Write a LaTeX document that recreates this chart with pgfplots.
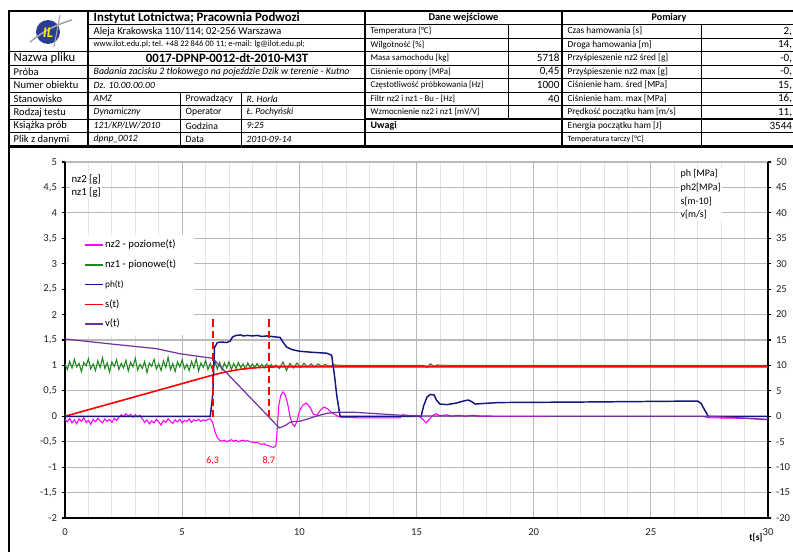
\documentclass[border=0pt]{standalone}
\usepackage{fontspec}
\setmainfont{Carlito}
\usepackage{pgfplots}
\pgfplotsset{compat=1.18}
\definecolor{cnavy}{RGB}{20,20,130}
\definecolor{cgreen}{RGB}{30,135,30}
\definecolor{cmag}{RGB}{255,0,255}
\definecolor{cpurp}{RGB}{112,48,160}
\definecolor{cred}{RGB}{255,0,0}
\definecolor{logob}{RGB}{40,60,150}
\newcommand\fs[1]{\fontsize{#1}{#1}\selectfont}
\begin{document}
\begin{tikzpicture}
\useasboundingbox (0,0) rectangle (594.75pt,413.25pt);
\fill[white] (0,0) rectangle (594.75pt,413.25pt);
% ---------------- left axis ----------------
\begin{axis}[at={(48.75pt,24.75pt)}, anchor=south west, scale only axis,
 width=527.25pt, height=267pt,
 xmin=0, xmax=30, ymin=-2, ymax=5,
 xtick={0,5,10,15,20,25,30}, minor x tick num=4,
 ytick={-2,-1.5,-1,-0.5,0,0.5,1,1.5,2,2.5,3,3.5,4,4.5,5},
 grid=both, major grid style={gray!55, line width=0.9pt},
 minor grid style={gray!22, line width=0.6pt},
 axis x line*=bottom, axis y line*=left,
 axis line style={black, line width=1.1pt, -},
 tick align=outside, major tick length=2.5pt, minor tick length=0pt,
 x tick style={draw=none}, y tick style={black, line width=0.8pt},
 tick label style={font=\fs{8}, text=black!85},
 xticklabel style={yshift=-2pt},
 /pgf/number format/use comma, /pgf/number format/fixed,
 /pgf/number format/assume math mode=true,
]
% nz1 - pionowe
\addplot[cgreen, line width=0.8pt] coordinates {
(0,1.02)(0.1,0.92)(0.2,1.08)(0.3,0.95)(0.4,1.12)(0.5,0.97)(0.6,1.04)(0.7,0.88)(0.8,1.06)(0.9,0.99)
(1.0,1.13)(1.1,0.93)(1.2,1.03)(1.3,0.9)(1.4,1.09)(1.5,0.96)(1.6,1.15)(1.7,0.94)(1.8,1.05)(1.9,0.87)
(2.0,1.07)(2.1,0.98)(2.2,1.11)(2.3,0.92)(2.4,1.04)(2.5,0.95)(2.6,1.1)(2.7,0.89)(2.8,1.06)(2.9,0.97)
(3.0,1.14)(3.1,0.91)(3.2,1.02)(3.3,0.94)(3.4,1.08)(3.5,0.86)(3.6,1.05)(3.7,0.98)(3.8,1.12)(3.9,0.93)
(4.0,1.03)(4.1,0.9)(4.2,1.09)(4.3,0.96)(4.4,1.16)(4.5,0.92)(4.6,1.04)(4.7,0.88)(4.8,1.07)(4.9,0.97)
(5.0,1.11)(5.1,0.93)(5.2,1.02)(5.3,0.9)(5.4,1.08)(5.5,0.95)(5.6,1.13)(5.7,0.89)(5.8,1.05)(5.9,0.96)
(6.0,1.1)(6.1,0.92)(6.2,1.04)(6.3,0.9)(6.4,1.08)(6.5,0.93)(6.6,1.06)(6.7,0.91)(6.8,1.05)(6.9,0.95)
(7.0,1.07)(7.1,0.92)(7.2,1.04)(7.3,0.94)(7.4,1.06)(7.5,0.95)(7.6,1.03)(7.7,0.93)(7.8,1.05)(7.9,0.96)
(8.0,1.03)(8.1,0.95)(8.2,1.04)(8.3,0.96)(8.4,1.02)(8.5,0.95)(8.6,1.03)(8.7,0.97)(8.8,1.02)(8.9,0.96)
(9.0,1.01)(9.15,0.94)(9.3,1.07)(9.45,0.9)(9.6,1.04)(9.75,0.95)(9.9,1.05)(10.05,0.96)(10.2,1.04)
(10.35,0.97)(10.5,1.03)(10.65,0.97)(10.8,1.03)(10.95,0.98)(11.1,1.02)(11.3,0.98)(11.5,1.01)(11.8,1.0)
(15.3,1.0)(15.45,0.96)(15.6,1.03)(15.75,0.98)(15.9,1.01)(16.2,1.0)(30,1.0)};
% nz2 - poziome
\addplot[cmag, line width=0.8pt] coordinates {
(0,-0.06)(0.1,-0.11)(0.2,-0.04)(0.3,-0.13)(0.4,-0.07)(0.5,-0.15)(0.6,-0.05)(0.7,-0.1)(0.8,-0.03)(0.9,-0.12)
(1.0,-0.08)(1.1,-0.16)(1.2,-0.06)(1.3,-0.11)(1.4,-0.04)(1.5,-0.09)(1.6,-0.13)(1.7,-0.05)(1.8,-0.1)(1.9,-0.06)
(2.0,-0.12)(2.1,-0.04)(2.2,-0.08)(2.3,-0.02)(2.4,0.03)(2.5,-0.01)(2.6,0.05)(2.7,0.0)(2.8,0.04)(2.9,-0.02)
(3.0,0.03)(3.1,-0.01)(3.2,0.02)(3.3,-0.05)(3.4,-0.12)(3.5,-0.07)(3.6,-0.15)(3.7,-0.09)(3.8,-0.13)(3.9,-0.06)
(4.0,-0.11)(4.1,-0.17)(4.2,-0.08)(4.3,-0.12)(4.4,-0.05)(4.5,-0.1)(4.6,-0.14)(4.7,-0.07)(4.8,-0.11)(4.9,-0.06)
(5.0,-0.13)(5.1,-0.08)(5.2,-0.1)(5.3,-0.05)(5.4,-0.12)(5.5,-0.07)(5.6,-0.09)(5.7,-0.06)(5.8,-0.1)(5.9,-0.07)
(6.0,-0.09)(6.1,-0.06)(6.2,-0.05)(6.3,-0.12)(6.4,-0.3)(6.5,-0.42)(6.6,-0.47)(6.7,-0.49)(6.8,-0.47)(6.9,-0.5)
(7.0,-0.48)(7.1,-0.46)(7.2,-0.49)(7.3,-0.47)(7.4,-0.5)(7.5,-0.48)(7.6,-0.47)(7.7,-0.49)(7.8,-0.48)(7.9,-0.5)
(8.0,-0.51)(8.1,-0.52)(8.2,-0.51)(8.3,-0.54)(8.4,-0.55)(8.5,-0.54)(8.6,-0.57)(8.7,-0.58)(8.8,-0.6)(8.9,-0.61)
(9.0,-0.58)(9.05,-0.3)(9.12,0.2)(9.2,0.4)(9.3,0.48)(9.4,0.42)(9.5,0.25)(9.6,0.0)(9.7,-0.15)(9.8,-0.2)
(9.9,-0.1)(10.0,0.1)(10.15,0.22)(10.3,0.26)(10.45,0.18)(10.6,0.04)(10.75,0.02)(10.9,0.12)(11.05,0.18)
(11.2,0.15)(11.35,0.08)(11.5,0.04)(11.65,0.0)(11.8,-0.02)(12.5,-0.03)(14.3,-0.03)(14.4,0.03)(14.6,0.02)
(15.1,0.01)(15.25,-0.05)(15.4,-0.13)(15.55,-0.06)(15.7,0.02)(15.85,0.05)(16.0,0.01)(16.3,0.03)(16.5,0.0)
(16.8,0.02)(17.1,0.0)(17.4,0.02)(17.7,0.0)(20,0.0)(27.2,0.0)(27.5,-0.03)(29,-0.04)(30,-0.07)};
\node[text=cred, font=\fs{7.5}] at (axis cs:6.3,-0.87) {6,3};
\node[text=cred, font=\fs{7.5}] at (axis cs:8.7,-0.87) {8,7};
\end{axis}
% ---------------- right axis ----------------
\begin{axis}[at={(48.75pt,24.75pt)}, anchor=south west, scale only axis,
 width=527.25pt, height=267pt,
 xmin=0, xmax=30, ymin=-20, ymax=50,
 axis x line=none, axis y line*=right,
 axis line style={black, line width=1.1pt, -},
 ytick={-20,-15,-10,-5,0,5,10,15,20,25,30,35,40,45,50},
 tick align=outside, major tick length=2.5pt,
 y tick style={black, line width=0.8pt},
 tick label style={font=\fs{8}, text=black!85},
 /pgf/number format/assume math mode=true,
 legend style={at={(0.003,0.797)}, anchor=north west, fill=white, draw=none,
   inner xsep=12.5pt, inner ysep=3pt, row sep=4.8pt,
   font=\fs{8}, nodes={text height=6pt, text depth=2pt, inner sep=1pt}},
 legend cell align=left,
 legend image code/.code={\draw[#1] (0pt,0pt) -- (13.5pt,0pt);},
]
\addlegendimage{cmag, line width=1.3pt}\addlegendentry{nz2 - poziome(t)}
\addlegendimage{cgreen, line width=1.3pt}\addlegendentry{nz1 - pionowe(t)}
\addlegendimage{cnavy, line width=0.8pt}\addlegendentry{{\fs{7}ph(t)}}
\addlegendimage{cred, line width=1.3pt}\addlegendentry{s(t)}
\addlegendimage{cpurp, line width=1.3pt}\addlegendentry{v(t)}
% s(t)
\addplot[cred, line width=1.2pt, forget plot] coordinates {
(0,0)(1,1.29)(2,2.57)(3,3.86)(4,5.14)(5,6.43)(6.3,8.1)(6.6,8.45)(7,8.85)(7.5,9.25)(8,9.5)
(8.5,9.65)(9,9.72)(9.5,9.75)(30,9.75)};
% ph(t)
\addplot[cnavy, line width=1.1pt, forget plot] coordinates {
(0,0)(6.2,0)(6.3,4)(6.38,13.5)(6.5,14.5)(6.7,14.6)(6.9,14.5)(7.05,14.8)(7.15,15.6)(7.3,15.9)
(7.5,16.0)(7.6,15.8)(7.8,15.9)(8.0,15.8)(8.2,15.9)(8.4,15.7)(8.6,15.8)(8.8,15.7)(9.0,15.6)
(9.18,15.5)(9.3,14.6)(9.46,13.6)(9.7,13.1)(10.0,12.8)(10.5,12.6)(11.17,12.4)(11.38,12.0)
(11.5,8)(11.6,4)(11.74,0)(15.2,0)(15.3,2)(15.45,3.8)(15.6,4.3)(15.75,4.2)(15.85,3.2)(16.0,2.4)
(16.3,2.3)(16.7,2.6)(17.0,3.0)(17.2,3.2)(17.35,2.9)(17.5,2.4)(17.8,2.5)(18.5,2.7)(22,2.8)
(27.0,3.0)(27.15,2.5)(27.3,1.2)(27.45,0)(30,0)};
% v(t)
\addplot[cpurp, line width=0.9pt, forget plot] coordinates {
(0,15.2)(2,14.2)(3.9,13.3)(4.9,12.3)(6.3,11.4)(9.15,-2.3)(9.4,-1.8)(9.6,-1.2)(9.8,-1.0)
(10.0,-1.0)(10.3,-0.6)(10.7,0.0)(11.2,0.6)(11.7,0.8)(12.3,0.8)(13,0.6)(14,0.3)(15,0.05)
(27.5,0.0)(30,-0.6)};
% markers
\addplot[cred, line width=1.6pt, dash pattern=on 5.5pt off 3pt, forget plot] coordinates {(6.3,-0.2)(6.3,19.3)};
\addplot[cred, line width=1.6pt, dash pattern=on 5.5pt off 3pt, forget plot] coordinates {(8.7,-0.2)(8.7,19.3)};
\end{axis}
% ---------------- table and annotations (pixel coordinates, y down) ----------------
\begin{scope}[x=0.75pt, y=-0.75pt, yshift=413.25pt]
% annotation boxes in plot
\node[anchor=north west, fill=white, inner sep=1pt, align=left, font=\fontsize{8}{9.75}\selectfont]
  at (70,173) {nz2 [g]\\nz1 [g]};
\node[anchor=north west, fill=white, inner sep=1pt, align=left, font=\fontsize{7.5}{10.25}\selectfont]
  at (679,168) {ph [MPa]\\ph2[MPa]\\s[m-10]\\v[m/s]};
\node[font=\bfseries\fs{7}] at (756,538) {t[s]};
% frame
\draw[line width=1.6pt] (9,11) -- (9,553);
\draw[line width=1.4pt] (9,147) -- (800,147);
% ---- left block
\draw[line width=1.3pt] (9,11) rectangle (365,146);
\draw[line width=1.1pt] (88,11) -- (88,146);
\foreach \yy in {24.5,38} \draw[line width=0.5pt] (88,\yy) -- (365,\yy);
\draw[line width=1.1pt] (9,51.5) -- (365,51.5);
\foreach \yy in {65,78.5,92,105.5,119,132.5} \draw[line width=0.5pt] (9,\yy) -- (365,\yy);
\draw[line width=0.5pt] (180,92) -- (180,146);
\draw[line width=0.5pt] (241,92) -- (241,146);
% logo
\fill[logob] (48,32) circle (12);
\draw[gray!70, line width=1.2pt] (30,42) .. controls (45,30) and (58,24) .. (72,20);
\draw[gray!70, line width=0.8pt] (60,15) -- (54,47);
\node[text=yellow!90!orange, font=\bfseries\itshape\fs{11}] at (48,33) {IL};
% header texts
\node[anchor=west, font=\bfseries\fs{9.6}] at (89,17.75) {Instytut Lotnictwa; Pracownia Podwozi};
\node[anchor=west, font=\fs{7.9}] at (89,31.25) {Aleja Krakowska 110/114; 02-256 Warszawa};
\node[anchor=west, font=\fs{6.3}] at (89,44.75) {www.ilot.edu.pl; tel. +48 22 846 00 11; e-mail: lg@ilot.edu.pl;};
\node[anchor=west, font=\fs{9.5}] at (9,58.25) {Nazwa pliku};
\node[font=\bfseries\fs{9.6}] at (227,58.25) {0017-DPNP-0012-dt-2010-M3T};
\node[anchor=west, font=\fs{7.9}] at (9,71.75) {Próba};
\node[anchor=west, font=\itshape\fs{7.4}] at (89,71.75) {Badania zacisku 2 tłokowego na pojeździe Dzik w terenie - Kutno};
\node[anchor=west, font=\fs{7.9}] at (9,85.25) {Numer obiektu};
\node[anchor=west, font=\itshape\fs{7.2}] at (89,85.25) {Dz. 10.00.00.00};
\node[anchor=west, font=\fs{7.9}] at (9,98.75) {Stanowisko};
\node[anchor=west, font=\itshape\fs{7.2}] at (89,98.75) {AMZ};
\node[anchor=west, font=\fs{7.3}] at (181,98.75) {Prowadzący};
\node[anchor=west, font=\itshape\fs{7.2}] at (242,98.75) {R. Horla};
\node[anchor=west, font=\fs{7.9}] at (9,112.25) {Rodzaj testu};
\node[anchor=west, font=\itshape\fs{7.2}] at (89,112.25) {Dynamiczny};
\node[anchor=west, font=\fs{7.3}] at (181,112.25) {Operator};
\node[anchor=west, font=\itshape\fs{7.2}] at (242,112.25) {Ł. Pochyński};
\node[anchor=west, font=\fs{7.9}] at (9,125.75) {Książka prób};
\node[anchor=west, font=\itshape\fs{7.2}] at (89,125.75) {121/KP/LW/2010};
\node[anchor=west, font=\fs{7.3}] at (181,125.75) {Godzina};
\node[anchor=west, font=\itshape\fs{7.2}] at (242,125.75) {9:25};
\node[anchor=west, font=\fs{7.9}] at (9,139.25) {Plik z danymi};
\node[anchor=west, font=\itshape\fs{7.2}] at (89,139.25) {dpnp\_0012};
\node[anchor=west, font=\fs{7.3}] at (181,139.25) {Data};
\node[anchor=west, font=\itshape\fs{7.2}] at (242,139.25) {2010-09-14};
% ---- middle block
\draw[line width=1.3pt] (365,11) rectangle (562,146);
\draw[line width=1.1pt] (365,24.5) -- (562,24.5);
\foreach \yy in {38,51.5,65,78.5,92,105.5,132.5} \draw[line width=0.5pt] (365,\yy) -- (562,\yy);
\draw[line width=1.1pt] (365,119) -- (562,119);
\draw[line width=0.5pt] (508,24.5) -- (508,119);
\node[font=\bfseries\fs{7.8}] at (463.5,17.75) {Dane wejściowe};
\node[anchor=west, font=\fs{6.6}] at (366,31.25) {Temperatura [°C]};
\node[anchor=west, font=\fs{6.6}] at (366,44.75) {Wilgotność [\%]};
\node[anchor=west, font=\fs{6.6}] at (366,58.25) {Masa samochodu [kg]};
\node[anchor=west, font=\fs{6.6}] at (366,71.75) {Ciśnienie opony [MPa]};
\node[anchor=west, font=\fs{6.6}] at (366,85.25) {Częstotliwość próbkowania [Hz]};
\node[anchor=west, font=\fs{6.6}] at (366,98.75) {Filtr nz2 i nz1 - Bu - [Hz]};
\node[anchor=west, font=\fs{6.6}] at (366,112.25) {Wzmocnienie nz2 i nz1 [mV/V]};
\node[anchor=west, font=\bfseries\fs{7.5}] at (366,125.75) {Uwagi};
\node[anchor=east, font=\fs{8.3}, inner sep=1pt] at (561,58.25) {5718};
\node[anchor=east, font=\fs{8.3}, inner sep=1pt] at (561,71.75) {0,45};
\node[anchor=east, font=\fs{8.3}, inner sep=1pt] at (561,85.25) {1000};
\node[anchor=east, font=\fs{8.3}, inner sep=1pt] at (561,98.75) {40};
% ---- right block
\draw[line width=1.3pt] (562,11) rectangle (800,146);
\draw[line width=1.1pt] (562,24.5) -- (800,24.5);
\foreach \yy in {38,51.5,65,78.5,92,105.5,132.5} \draw[line width=0.5pt] (562,\yy) -- (800,\yy);
\draw[line width=1.1pt] (562,119) -- (800,119);
\draw[line width=0.5pt] (701,24.5) -- (701,146);
\node[font=\bfseries\fs{7.6}] at (669,17.75) {Pomiary};
\node[anchor=west, font=\fs{7}] at (563,31.25) {Czas hamowania [s]};
\node[anchor=west, font=\fs{7}] at (563,44.75) {Droga hamowania [m]};
\node[anchor=west, font=\fs{7}] at (563,58.25) {Przyśpieszenie nz2 śred [g]};
\node[anchor=west, font=\fs{7}] at (563,71.75) {Przyśpieszenie nz2 max [g]};
\node[anchor=west, font=\fs{7}] at (563,85.25) {Ciśnienie ham. śred [MPa]};
\node[anchor=west, font=\fs{7}] at (563,98.75) {Ciśnienie ham. max [MPa]};
\node[anchor=west, font=\fs{6.8}] at (563,112.25) {Prędkość początku ham [m/s]};
\node[anchor=west, font=\fs{7}] at (563,125.75) {Energia początku ham [J]};
\node[anchor=west, font=\fs{6}] at (563,139.25) {Temperatura tarczy [°C]};
\node[anchor=east, font=\fs{8.3}, inner sep=0.5pt] at (793,31.25) {2,};
\node[anchor=east, font=\fs{8.3}, inner sep=0.5pt] at (793,44.75) {14,};
\node[anchor=east, font=\fs{8.3}, inner sep=0.5pt] at (793,58.25) {-0,};
\node[anchor=east, font=\fs{8.3}, inner sep=0.5pt] at (793,71.75) {-0,};
\node[anchor=east, font=\fs{8.3}, inner sep=0.5pt] at (793,85.25) {15,};
\node[anchor=east, font=\fs{8.3}, inner sep=0.5pt] at (793,98.75) {16,};
\node[anchor=east, font=\fs{8.3}, inner sep=0.5pt] at (793,112.25) {11,};
\node[anchor=east, font=\fs{8.3}, inner sep=0.5pt] at (793,125.75) {3544};
\end{scope}
\end{tikzpicture}
\end{document}
